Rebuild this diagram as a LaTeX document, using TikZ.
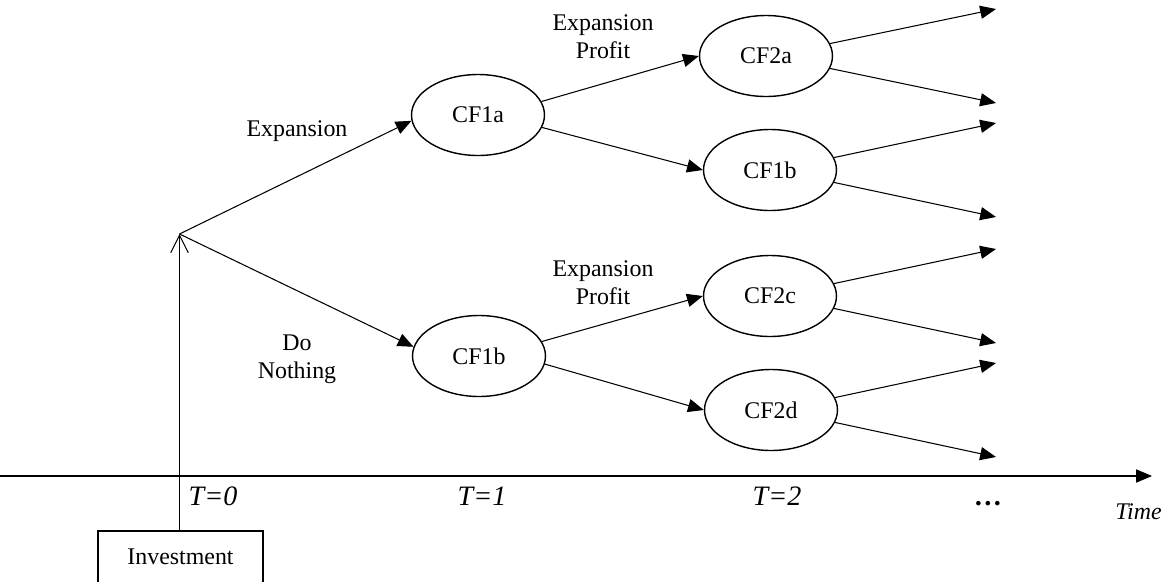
\documentclass[tikz,border=0pt]{standalone}
\usepackage{fontspec}
\setmainfont{Liberation Serif}
\usetikzlibrary{shapes,arrows.meta,positioning}

\tikzset{
  cfnode/.style={draw, ellipse, line width=0.8pt, minimum width=2.66cm, minimum height=1.62cm, inner sep=0pt},
  tip/.style={-{Triangle[length=9pt,width=7.5pt]}},
  tlabel/.style={font=\fontsize{16}{19}\selectfont\itshape, anchor=base},
}

\begin{document}
\begin{tikzpicture}[x=0.02cm, y=-0.02cm, line width=0.6pt, font=\fontsize{13.6}{16}\selectfont]
    \useasboundingbox (0,0) rectangle (1164,582);
    % time axis
    \coordinate (axisstart) at (0,476);
    \coordinate (axisend) at (1152,476);
    \draw [tip] (axisstart) -- (axisend);
    \node [tlabel] (t0) at (213,505) {T=0};
    \node [tlabel] (t1) at (482,505) {T=1};
    \node [tlabel] (t2) at (777,505) {T=2};
    \node [tlabel, font=\fontsize{16}{19}\selectfont\bfseries] (tdots) at (988,505) {…};
    \node [anchor=base east, inner xsep=1pt, font=\fontsize{13.6}{16}\selectfont\itshape] (timelbl) at (1164,519) {Time};

    % investment and first decision
    \node [draw, rectangle, minimum width=3.3cm, minimum height=1.04cm] (invest) at (180.5,557) {Investment};
    \coordinate (root) at (179.5,234);
    \draw [-{Straight Barb[length=10pt,width=10pt]}] (invest.north -| root) -- (root);

    \node [cfnode] (cf1a) at (478,115) {CF1a};
    \node [cfnode] (cf1b) at (479,356) {CF1b};
    \node [cfnode] (cf2a) at (766,56) {CF2a};
    \node [cfnode] (cf2b) at (770,170) {CF1b};
    \node [cfnode] (cf2c) at (770,296) {CF2c};
    \node [cfnode] (cf2d) at (771,410) {CF2d};

    \draw [tip] (root) -- (cf1a.185);
    \draw [tip] (root) -- (cf1b.172);
    \node (lblexp) at (297,131) {Expansion};
    \node [align=center] (lbldo) at (297,359) {Do\\Nothing};

    % second step
    \draw [tip] (cf1a.12) -- (cf2a.west);
    \draw [tip] (cf1a.-11) -- (cf2b.west);
    \draw [tip] (cf1b.13) -- (cf2c.west);
    \draw [tip] (cf1b.-7) -- (cf2d.west);
    \node [align=center] (lblprofa) at (603,37) {Expansion\\Profit};
    \node [align=center] (lblprofb) at (603,283) {Expansion\\Profit};

    % open ends
    \foreach \n/\y in {cf2a/56, cf2b/170, cf2c/296, cf2d/410} {
      \coordinate (\n up) at (996,\y-47);
      \coordinate (\n down) at (996,\y+47);
      \draw [tip] (\n.11) -- (\n up);
      \draw [tip] (\n.-11) -- (\n down);
    }
  \end{tikzpicture}
\end{document}
